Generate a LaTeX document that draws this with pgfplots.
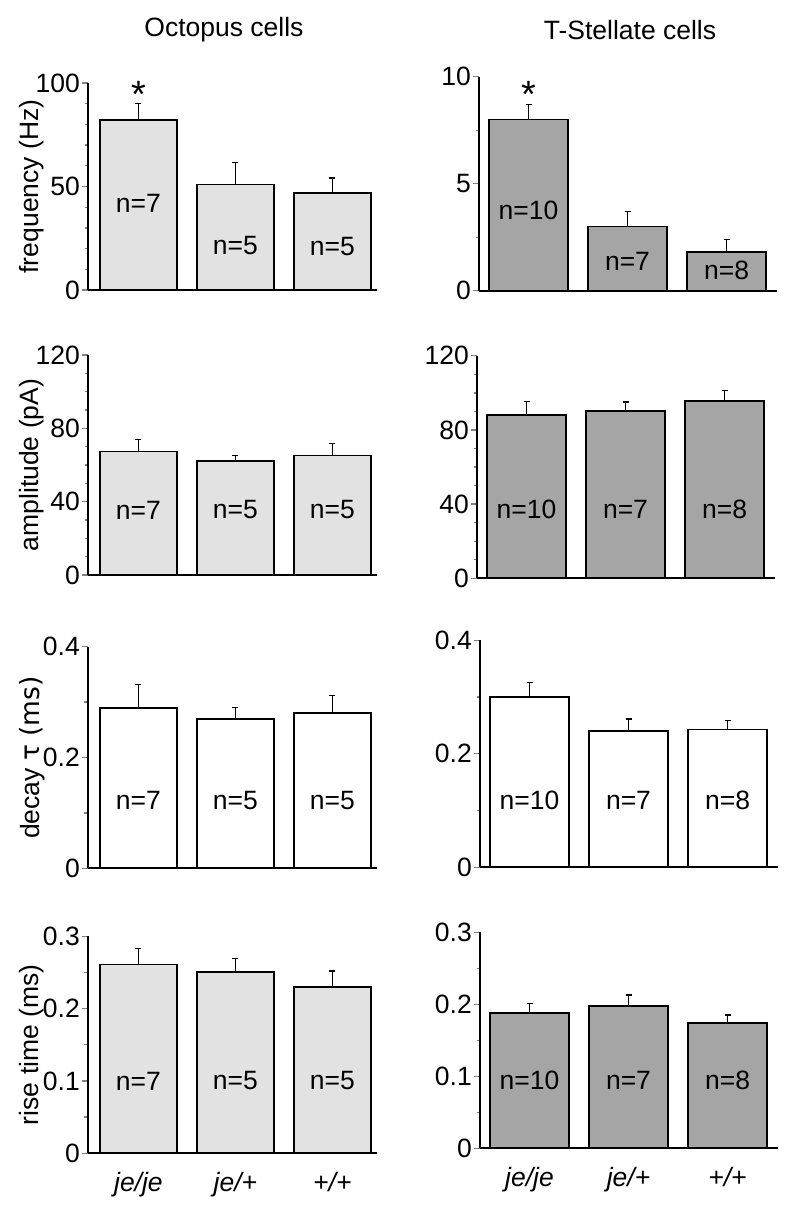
\documentclass[border=0pt]{standalone}
\usepackage{pgfplots}
\pgfplotsset{compat=1.18}
\usepackage{fontspec}
\setmainfont{Liberation Sans}
\definecolor{lightfill}{RGB}{226,226,226}
\definecolor{darkfill}{RGB}{165,165,165}
\pgfplotsset{
  panel/.style={
    scale only axis, anchor=south west,
    axis x line*=bottom, axis y line*=left,
    ymin=0, xtick=\empty, ybar, clip=false,
    axis line style={line width=1.7pt},
    ytick style={line width=1.3pt},
    tick align=outside, major tick length=6pt, minor tick length=3.5pt,
    /pgf/number format/assume math mode=true,
    yticklabel style={inner sep=2pt},
    error bars/y dir=plus, error bars/y explicit,
    error bars/error bar style={line width=1.5pt},
    error bars/error mark options={rotate=90, mark size=3pt, line width=1.5pt},
  },
  leftp/.style={panel, width=289pt, xmin=-0.52, xmax=2.46, bar width=0.79,
    ylabel style={at={(axis description cs:-0.194,0.5)}, anchor=center}},
  rightp/.style={panel, width=298pt, xmin=-0.5, xmax=2.51, bar width=0.8},
  bottomp/.style={xtick={0,1,2}, xticklabels={je/je,je/+,+/+},
    xticklabel style={font=\itshape, yshift=-4pt}, x tick style={draw=none}},
}
\begin{document}
\fontsize{26.5}{31}\selectfont
\begin{tikzpicture}
\path[use as bounding box] (0,0) rectangle (800pt,1212pt);
\node at (224pt,1182pt) {Octopus cells};
\node at (630pt,1182pt) {T-Stellate cells};

% Row 1 left: frequency
\begin{axis}[leftp, at={(88pt,922pt)}, height=207pt, ymax=100,
  ytick={0,50,100}, minor y tick num=4, ylabel={frequency (Hz)}]
\addplot[fill=lightfill, draw=black, line width=1.7pt] coordinates {
  (0,82) +- (0,8) (1,51) +- (0,10.5) (2,47) +- (0,7)};
\node at (axis cs:0,42) {n=7};
\node at (axis cs:1,21.7) {n=5};
\node at (axis cs:2,21) {n=5};
\node[anchor=north, inner sep=0pt, font=\fontsize{38}{38}\selectfont] at (axis cs:0,100.8) {*};
\end{axis}

% Row 1 right
\begin{axis}[rightp, at={(479pt,921.3pt)}, height=214pt, ymax=10,
  ytick={0,5,10}, minor y tick num=1]
\addplot[fill=darkfill, draw=black, line width=1.7pt] coordinates {
  (0,8.0) +- (0,0.71) (1,3.0) +- (0,0.69) (2,1.8) +- (0,0.6)};
\node at (axis cs:0,3.77) {n=10};
\node at (axis cs:1,1.36) {n=7};
\node at (axis cs:2,0.93) {n=8};
\node[anchor=north, inner sep=0pt, font=\fontsize{38}{38}\selectfont] at (axis cs:0,9.8) {*};
\end{axis}

% Row 2 left: amplitude
\begin{axis}[leftp, at={(88pt,637pt)}, height=220pt, ymax=120,
  ytick={0,40,80,120}, minor y tick num=3, ylabel={amplitude (pA)}]
\addplot[fill=lightfill, draw=black, line width=1.7pt] coordinates {
  (0,67.3) +- (0,6.5) (1,62.2) +- (0,2.9) (2,65.1) +- (0,6.5)};
\node at (axis cs:0,35.5) {n=7};
\node at (axis cs:1,35.5) {n=5};
\node at (axis cs:2,35.5) {n=5};
\end{axis}

% Row 2 right
\begin{axis}[rightp, at={(477pt,633.7pt)}, height=222.5pt, ymax=120,
  ytick={0,40,80,120}, minor y tick num=3]
\addplot[fill=darkfill, draw=black, line width=1.7pt] coordinates {
  (0,87.9) +- (0,7.4) (1,90.1) +- (0,5.0) (2,95.6) +- (0,5.8)};
\node at (axis cs:0,36.9) {n=10};
\node at (axis cs:1,36.9) {n=7};
\node at (axis cs:2,36.9) {n=8};
\end{axis}

% Row 3 left: decay
\begin{axis}[leftp, at={(88pt,343.7pt)}, height=221.6pt, ymax=0.4,
  ytick={0,0.2,0.4}, minor y tick num=1, ylabel={decay \fontspec{DejaVu Sans}τ\ (ms)}]
\addplot[fill=white, draw=black, line width=1.7pt] coordinates {
  (0,0.289) +- (0,0.043) (1,0.270) +- (0,0.020) (2,0.280) +- (0,0.032)};
\node at (axis cs:0,0.123) {n=7};
\node at (axis cs:1,0.123) {n=5};
\node at (axis cs:2,0.123) {n=5};
\end{axis}

% Row 3 right
\begin{axis}[rightp, at={(480pt,344.7pt)}, height=227pt, ymax=0.4,
  ytick={0,0.2,0.4}, minor y tick num=1]
\addplot[fill=white, draw=black, line width=1.7pt] coordinates {
  (0,0.300) +- (0,0.026) (1,0.240) +- (0,0.0216) (2,0.243) +- (0,0.016)};
\node at (axis cs:0,0.118) {n=10};
\node at (axis cs:1,0.118) {n=7};
\node at (axis cs:2,0.118) {n=8};
\end{axis}

% Row 4 left: rise time
\begin{axis}[leftp, bottomp, at={(88pt,58.7pt)}, height=217pt, ymax=0.3,
  ytick={0,0.1,0.2,0.3}, minor y tick num=1, ylabel={rise time (ms)}]
\addplot[fill=lightfill, draw=black, line width=1.7pt] coordinates {
  (0,0.261) +- (0,0.022) (1,0.251) +- (0,0.018) (2,0.230) +- (0,0.022)};
\node at (axis cs:0,0.10) {n=7};
\node at (axis cs:1,0.10) {n=5};
\node at (axis cs:2,0.10) {n=5};
\end{axis}

% Row 4 right
\begin{axis}[rightp, bottomp, at={(480pt,63.7pt)}, height=216pt, ymax=0.3,
  ytick={0,0.1,0.2,0.3}, minor y tick num=1]
\addplot[fill=darkfill, draw=black, line width=1.7pt] coordinates {
  (0,0.1875) +- (0,0.0135) (1,0.1977) +- (0,0.0153) (2,0.1745) +- (0,0.0105)};
\node at (axis cs:0,0.095) {n=10};
\node at (axis cs:1,0.095) {n=7};
\node at (axis cs:2,0.095) {n=8};
\end{axis}
\end{tikzpicture}
\end{document}
